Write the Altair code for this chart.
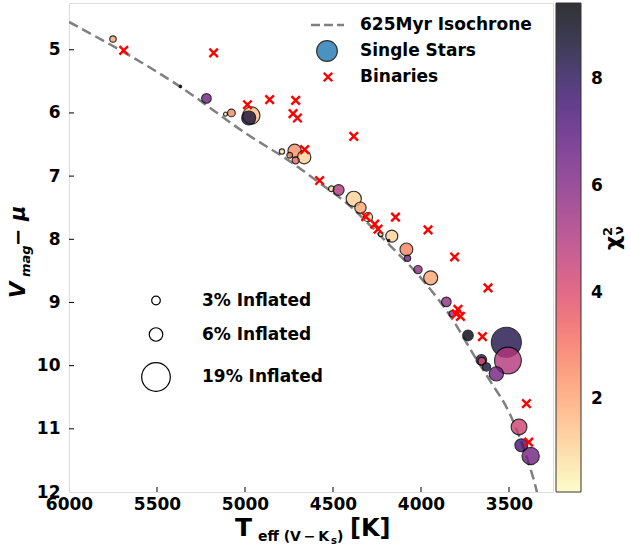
import altair as alt
import pandas as pd

# ---------------- data ----------------
single_teff = [5750, 5367, 5219, 5111, 5077, 4964, 4979, 4790, 4718, 4664, 4712, 4746,
               4509, 4468, 4382, 4344, 4301, 4229, 4166, 4184, 4083, 4077, 4017, 3945,
               3856, 3822, 3733, 3515, 3506, 3657, 3655, 3628, 3572, 3443, 3430, 3377]
single_vmag = [4.83, 5.58, 5.77, 6.02, 6.00, 6.04, 6.08, 6.61, 6.60, 6.70, 6.75, 6.67,
               7.20, 7.22, 7.36, 7.50, 7.65, 7.92, 7.95, 8.02, 8.16, 8.30, 8.48, 8.61,
               8.99, 9.18, 9.52, 9.63, 9.92, 9.91, 9.93, 10.02, 10.13, 10.97, 11.26, 11.43]
single_chi2 = [2.0, 9.0, 6.5, 0.9, 2.6, 1.5, 8.5, 0.9, 2.4, 1.1, 3.4, 2.6,
               0.9, 5.0, 1.1, 2.0, 1.0, 0.9, 1.1, 9.0, 2.7, 6.4, 5.7, 2.0,
               5.6, 5.6, 9.2, 8.2, 4.9, 8.0, 3.9, 8.5, 6.4, 4.3, 7.4, 6.4]
single_infl = [1.9, 0.45, 3.5, 0.9, 2.5, 8.7, 6.3, 1.4, 5.9, 5.9, 2.2, 1.6,
               1.6, 4.3, 7.2, 4.6, 3.2, 1.1, 5.0, 0.45, 5.5, 1.9, 2.8, 6.3,
               3.5, 1.9, 4.1, 20.4, 17.1, 4.1, 2.5, 2.8, 6.5, 7.6, 5.5, 8.7]

binary_teff = [5689, 5178, 4986, 4860, 4712, 4727, 4702, 4661, 4576, 4382, 4314, 4263,
               4244, 4145, 3960, 3809, 3619, 3790, 3799, 3776, 3651, 3401, 3388]
binary_vmag = [5.01, 5.05, 5.87, 5.79, 5.80, 6.01, 6.08, 6.58, 7.07, 6.37, 7.64, 7.76,
               7.84, 7.65, 7.85, 8.28, 8.77, 9.11, 9.18, 9.22, 9.54, 10.60, 11.21]

iso_teff = [6000, 5371, 4992, 4727, 4576, 4443, 4197, 3989, 3818, 3705, 3610, 3496, 3382, 3344, 3320]
iso_vmag = [4.56, 5.58, 6.33, 6.80, 7.11, 7.38, 8.04, 8.65, 9.28, 9.81, 10.23, 10.76, 11.60, 11.97, 12.30]

x_ticks = [6000, 5500, 5000, 4500, 4000, 3500]
y_ticks = [5, 6, 7, 8, 9, 10, 11, 12]
size_legend_values = [3, 6, 19]
cbar_ticks = [2, 4, 6, 8]

legend_labels = ["625Myr Isochrone", "Single Stars", "Binaries"]

# ---------------- layout ----------------
W, H = 484, 489
FONT = "DejaVu Sans"

singles = pd.DataFrame({"teff": single_teff, "vmag": single_vmag,
                        "chi2": single_chi2, "infl": single_infl})
singles["order"] = range(len(singles))
binaries = pd.DataFrame({"teff": binary_teff, "vmag": binary_vmag})
iso = pd.DataFrame({"teff": iso_teff, "vmag": iso_vmag})
iso["order"] = range(len(iso))

xscale = alt.Scale(domain=[3250, 6000], reverse=True, nice=False, zero=False)
yscale = alt.Scale(domain=[4.26, 12], reverse=True, nice=False, zero=False)

xaxis = alt.Axis(values=x_ticks, format="d", tickSize=0, domain=False, grid=False,
                 labelFontSize=17, labelFontWeight="bold", labelFont=FONT,
                 labelPadding=4, labelFlush=False, labelOverlap=False, labelColor="black")
yaxis = alt.Axis(values=y_ticks, format="d", tickSize=0, domain=False, grid=False,
                 labelFontSize=17, labelFontWeight="bold", labelFont=FONT,
                 labelPadding=9, labelFlush=False, labelOverlap=False, labelColor="black")

X = alt.X("teff:Q", scale=xscale, axis=xaxis, title=None)
Y = alt.Y("vmag:Q", scale=yscale, axis=yaxis, title=None)

iso_line = alt.Chart(iso).mark_line(
    color="#808080", strokeDash=[10, 5], strokeWidth=2.5, clip=True, interpolate="monotone"
).encode(x=X, y=Y, order="order:Q")

circles = alt.Chart(singles).mark_circle(
    opacity=0.8, stroke="black", strokeWidth=1.2
).encode(
    x=X, y=Y,
    order=alt.Order("order:Q"),
    color=alt.Color("chi2:Q",
                    scale=alt.Scale(scheme="magma", reverse=True, domain=[0.26, 9.43], nice=False, zero=False),
                    legend=alt.Legend(orient="none", legendX=487, legendY=0, direction="vertical",
                                      gradientLength=489, gradientThickness=25,
                                      values=cbar_ticks, format="d",
                                      labelFontSize=17, labelFont=FONT, labelFontWeight="bold",
                                      labelOffset=10, labelColor="black", title=None,
                                      gradientStrokeColor="black", gradientStrokeWidth=1,
                                      gradientOpacity=0.8, padding=0)),
    size=alt.Size("infl:Q",
                  scale=alt.Scale(type="pow", exponent=1.3, domain=[0, 19], range=[0, 820]),
                  legend=alt.Legend(orient="none", legendX=72, legendY=289, title=None,
                                    values=size_legend_values,
                                    labelExpr="datum.label + '% Inflated'",
                                    symbolFillColor="white", symbolStrokeColor="black",
                                    symbolStrokeWidth=1.2, symbolOpacity=1, symbolType="circle",
                                    labelFontSize=17, labelFont=FONT, labelFontWeight="bold",
                                    labelColor="black", labelOffset=31, rowPadding=16, padding=0)),
)

cross_shape = "M-1,-1L1,1M-1,1L1,-1"
binary_pts = alt.Chart(binaries).mark_point(
    shape=cross_shape, filled=False, color="red", strokeWidth=2.4, size=72, opacity=1
).encode(x=X, y=Y)

# inward ticks
xt = alt.Chart(pd.DataFrame({"teff": x_ticks[1:]})).mark_rule(color="black", strokeWidth=1).encode(
    x=X, y=alt.value(H), y2=alt.value(H - 5))
yt = alt.Chart(pd.DataFrame({"vmag": y_ticks[:-1]})).mark_rule(color="black", strokeWidth=1).encode(
    y=Y, x=alt.value(0), x2=alt.value(5))

# top-right legend (manual)
leg_line = alt.Chart(pd.DataFrame({"a": [0]})).mark_rule(
    color="#808080", strokeDash=[9, 4], strokeWidth=2.5
).encode(x=alt.value(242), x2=alt.value(275), y=alt.value(22))
leg_circle = alt.Chart(pd.DataFrame({"a": [0]})).mark_point(
    shape="circle", filled=True, fill="#1f77b4", stroke="black", strokeWidth=1.2, opacity=0.8, size=430
).encode(x=alt.value(258), y=alt.value(48))
leg_cross = alt.Chart(pd.DataFrame({"a": [0]})).mark_point(
    shape=cross_shape, filled=False, color="red", strokeWidth=2.4, size=72, opacity=1
).encode(x=alt.value(259), y=alt.value(74))

def txt(s, x, y, size, angle=0, style="normal", align="left", baseline="alphabetic"):
    return alt.Chart(pd.DataFrame({"t": [s]})).mark_text(
        align=align, baseline=baseline, fontSize=size, fontWeight="bold",
        fontStyle=style, font=FONT, color="black", angle=angle
    ).encode(text="t:N", x=alt.value(x), y=alt.value(y))

leg_text = [txt(s, 291, yy, 17, baseline="middle") for s, yy in zip(legend_labels, [22, 48, 74])]

# axis titles composed of pieces (sub/superscripts)
ytitle = [
    txt("V", -44, 295, 21, angle=270, style="italic"),
    txt("mag", -39, 274, 13, angle=270, style="italic"),
    txt("− μ", -44, 243, 21, angle=270, style="italic"),
]
xtitle = [
    txt("T", 166, 533, 25),
    txt("eff (V\u2009\u2212\u2009K", 189, 538, 14),
    txt("s", 262, 541, 10),
    txt(")", 268, 538, 14),
    txt("[K]", 281, 533, 24),
]
ctitle = [
    txt("χ", 551, 247, 22, angle=270),
    txt("2", 543, 233, 13, angle=270),
    txt("ν", 554, 232, 13, angle=270),
]

chart = alt.layer(
    iso_line, circles, binary_pts, xt, yt, leg_line, leg_circle, leg_cross,
    *leg_text, *ytitle, *xtitle, *ctitle
).properties(
    width=W, height=H,
    autosize=alt.AutoSizeParams(type="none"),
    padding={"left": 69, "top": 3, "right": 78, "bottom": 57},
).configure_view(stroke="black", strokeWidth=1.5).configure(font=FONT)

chart.save("out.html", embed_options={"renderer": "svg", "actions": False})
